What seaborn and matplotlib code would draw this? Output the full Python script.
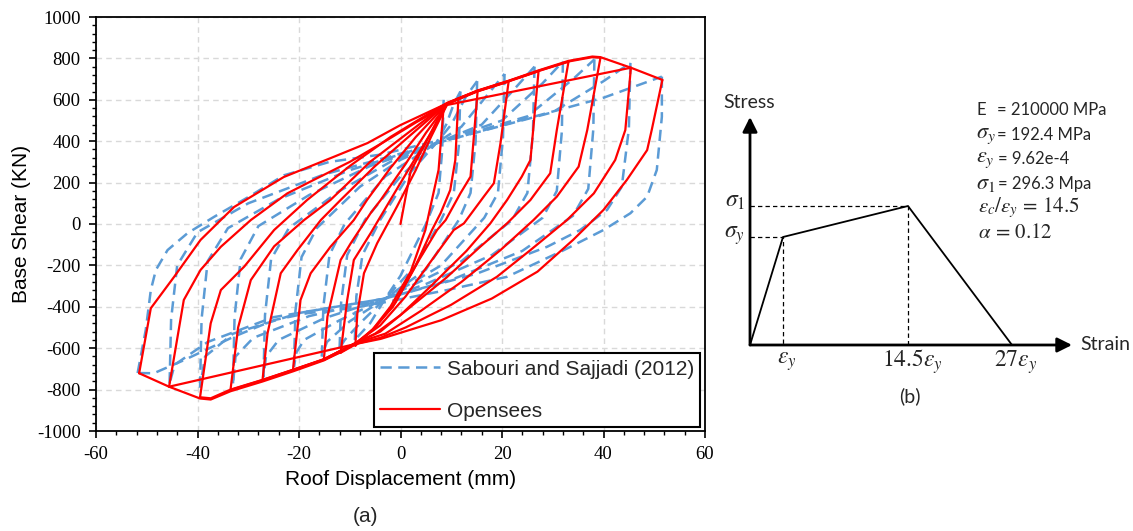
import numpy as np
import pandas as pd
import matplotlib
matplotlib.use("Agg")
import matplotlib.pyplot as plt
import seaborn as sns
from matplotlib.lines import Line2D
from matplotlib.ticker import MultipleLocator

# ---------------- data: OpenSees hysteresis (Roof displacement mm, base shear kN)
os_initial = [(0, 0), (1, 130), (2, 255), (4.6, 375), (6.8, 480), (8.5, 565)]

os_unload = [
    [(8.5, 565), (7.5, 261), (5.9, 84), (4.9, -29), (2, -230), (-2, -400), (-5.5, -510), (-8.9, -588)],
    [(11.4, 605), (10.8, 309), (9.8, 164), (7.9, 52), (6.2, -29), (3, -200), (-1.5, -400), (-5.5, -510), (-8.9, -582), (-11.8, -622)],
    [(15.2, 643), (13.8, 229), (11.8, 148), (8.9, 19), (7.2, -29), (3.5, -180), (-1, -380), (-5, -500), (-8.9, -578), (-11.8, -620), (-15.1, -657)],
    [(21.3, 688), (19.7, 390), (18.4, 197), (16.4, 132), (12.5, 3), (10.5, -29), (6, -180), (1, -350), (-4, -490), (-8.9, -576), (-15.1, -655), (-21.2, -708)],
    [(27.2, 738), (25.6, 309), (23.9, 229), (21, 116), (17.7, 3), (13, -130), (6, -300), (0, -440), (-5, -530), (-8.9, -576), (-15.1, -655), (-21.2, -706), (-27.2, -756)],
    [(33.1, 784), (30.8, 454), (29.5, 245), (25.6, 116), (21, 3), (15.7, -110), (9, -260), (2, -400), (-4, -520), (-8.9, -576), (-15.1, -654), (-21.2, -705), (-27.2, -754), (-33.5, -802)],
    [(39.4, 803), (36.8, 454), (35.1, 277), (30.8, 132), (26.2, 19), (19.7, -126), (12, -280), (4, -420), (-3, -530), (-8.9, -576), (-15.1, -653), (-21.2, -704), (-27.2, -753), (-33.5, -800), (-37.4, -842), (-39.5, -837)],
    [(45.4, 755), (44.3, 454), (42.3, 309), (38.1, 148), (32.8, 19), (25.6, -126), (19, -255), (10, -390), (1, -500), (-4, -550), (-8.9, -580), (-15.1, -659), (-21.2, -712), (-27.2, -761), (-33.5, -808), (-37.4, -848), (-39.5, -843), (-45.6, -786)],
    [(51.6, 696), (49.5, 454), (48.6, 357), (44.6, 213), (40, 68), (34, -77), (27, -230), (18, -360), (8, -465), (-3.9, -555), (-8.9, -580), (-45.6, -786), (-51.5, -721)],
]

os_reload = [
    [(-8.9, -588), (-8.5, -431), (-7.2, -238), (-4.6, -93), (-0.7, 84), (3, 260), (6, 420), (9.2, 578), (11.4, 605)],
    [(-11.8, -622), (-10.5, -367), (-9.2, -174), (-5.9, -45), (-2, 116), (2, 280), (6, 440), (9.2, 580), (12, 612), (15.2, 643)],
    [(-15.1, -657), (-14.4, -448), (-11.8, -174), (-9.8, -93), (-5.9, 52), (-3.9, 116), (1, 290), (5, 440), (9.2, 580), (15.1, 640), (21.3, 688)],
    [(-21.2, -708), (-19.7, -367), (-17.7, -238), (-13.8, -110), (-9.2, 19), (-6.6, 116), (-2, 270), (3, 420), (9.2, 582), (15.1, 641), (21.3, 689), (27.2, 738)],
    [(-27.2, -756), (-26.2, -528), (-23.6, -238), (-20.3, -126), (-15.7, 19), (-11.8, 116), (-5, 280), (2, 430), (9.2, 583), (15.1, 642), (21.3, 690), (27.2, 739), (33.1, 784)],
    [(-33.5, -802), (-32, -500), (-29.5, -271), (-24.9, -108), (-19, 19), (-13.8, 116), (-6, 300), (2, 450), (9.2, 584), (15.1, 643), (21.3, 691), (27.2, 740), (33.1, 785), (37.8, 806), (39.4, 803)],
    [(-39.5, -837), (-37.4, -480), (-35.4, -319), (-30.8, -206), (-24.9, -29), (-18.4, 116), (-10, 280), (-2, 420), (4, 510), (9.2, 585), (15.1, 644), (21.3, 692), (27.2, 742), (33.1, 788), (37.8, 809), (39.4, 806), (45.4, 755)],
    [(-45.6, -786), (-42.7, -367), (-39.4, -222), (-35.4, -110), (-29.5, 19), (-22.3, 148), (-17.1, 213), (-10, 300), (-3, 400), (3, 490), (9.2, 575), (45.4, 755), (51.6, 696)],
    [(-51.5, -721), (-49.2, -407), (-44.6, -255), (-39.4, -77), (-32.8, 82), (-23, 227), (-13.2, 324), (-6.5, 391), (0, 478), (9.2, 583)],
]

# ---------------- data: Sabouri and Sajjadi (2012) test
exp_unload = [
    [(8.5, 600), (8.2, 350), (7.5, 150), (5, 0), (0, -250), (-3, -360), (-6, -480), (-9, -560)],
    [(11.8, 640), (11.5, 380), (10.5, 150), (8, 20), (3, -200), (-3, -360), (-8, -480), (-11, -560), (-12, -600)],
    [(15.1, 690), (14.8, 400), (13.8, 150), (11.5, 20), (5, -220), (-3, -360), (-10, -470), (-14.5, -570), (-15.5, -640)],
    [(20.5, 725), (20.2, 420), (19.2, 150), (16.5, 30), (8, -200), (-3, -360), (-12, -465), (-19, -560), (-20.5, -620), (-21, -690)],
    [(26.4, 760), (26.1, 440), (25, 150), (22, 20), (12, -180), (-3, -360), (-15, -455), (-24, -560), (-26.5, -640), (-27, -740)],
    [(32, 785), (31.8, 450), (30.8, 160), (28, 30), (18, -150), (5, -290), (-3, -360), (-18, -445), (-29, -550), (-32.5, -640), (-33, -770)],
    [(38.2, 795), (38, 460), (37, 170), (34, 40), (24, -130), (10, -270), (-3, -360), (-20, -430), (-33, -530), (-38.5, -640), (-39.5, -790)],
    [(45.3, 778), (45, 460), (43.6, 180), (40.7, 68), (35.4, -29), (28.9, -110), (15, -240), (-3, -360), (-25, -450), (-38, -570), (-44.5, -680), (-45.5, -770)],
    [(51.5, 712), (51.5, 518), (50.5, 261), (48.6, 132), (45.3, 52), (40, -29), (32.2, -126), (21, -255), (9.2, -319), (-3.9, -382), (-9.8, -407), (-18.4, -431), (-24.9, -464), (-32.8, -544), (-42.6, -657), (-48.6, -721), (-51.8, -720)],
]

exp_reload = [
    [(-9, -560), (-8.7, -350), (-7.5, -150), (-4, 20), (2, 250), (7, 390), (9, 480), (10.5, 580), (11.8, 640)],
    [(-12, -600), (-11.7, -380), (-10.5, -150), (-7, 20), (0, 230), (7, 390), (10, 480), (13, 620), (15.1, 690)],
    [(-15.5, -640), (-15.2, -400), (-14, -150), (-11, 0), (-3, 230), (7, 390), (12, 470), (17, 620), (20.5, 725)],
    [(-21, -690), (-20.7, -420), (-19.5, -160), (-16.5, -20), (-8, 180), (0, 310), (7, 390), (16, 480), (22, 640), (26.4, 760)],
    [(-27, -740), (-26.7, -440), (-25.5, -170), (-22, -20), (-12, 160), (-2, 300), (7, 390), (20, 500), (28, 680), (32, 785)],
    [(-33, -770), (-32.7, -450), (-31.5, -170), (-28, -10), (-18, 140), (-6, 280), (7, 390), (25, 520), (34, 700), (38.2, 795)],
    [(-39.5, -790), (-39.2, -460), (-38, -180), (-34, -20), (-24, 120), (-10, 260), (7, 390), (30, 540), (40, 690), (45.3, 778)],
    [(-45.5, -770), (-45.2, -460), (-44, -200), (-40, -40), (-30, 100), (-15, 240), (0, 340), (7, 390), (40, 610), (51.5, 712)],
    [(-51.8, -720), (-50.2, -512), (-49.2, -319), (-48.2, -222), (-45.9, -126), (-42, -45), (-36.7, 35), (-30, 130), (-23, 235), (-14, 300), (-4, 335), (7, 400)],
]

series_names = ["Sabouri and Sajjadi (2012)", "Opensees"]
x_ticks = [-60, -40, -20, 0, 20, 40, 60]
y_ticks = [-1000, -800, -600, -400, -200, 0, 200, 400, 600, 800, 1000]

# ---------------- data: material model schematic (diagram units)
model_strain = [0, 33, 158, 262]
model_stress = [0, 108, 139, 0]
strain_labels = [r"$\varepsilon_y$", r"$14.5\varepsilon_y$", r"$27\varepsilon_y$"]
stress_labels = [r"$\sigma_1$", r"$\sigma_y$"]
param_symbols = ["E", r"$\sigma_y$", r"$\varepsilon_y$", r"$\sigma_1$"]
param_values = ["= 210000 MPa", "= 192.4 MPa", "= 9.62e-4", "= 296.3 Mpa"]
param_math = [r"$\varepsilon_c/\varepsilon_y\,=\,14.5$", r"$\alpha\,=\,0.12$"]

# ---------------- build tidy frame
rows = []
def add(series, prefix, branches):
    for b, pts in enumerate(branches):
        for i, (x, y) in enumerate(pts):
            rows.append(dict(series=series, branch=f"{prefix}{b}", order=i, disp=x, shear=y))

add(series_names[0], "eu", exp_unload)
add(series_names[0], "er", exp_reload)
add(series_names[1], "oi", [os_initial])
add(series_names[1], "ou", os_unload)
add(series_names[1], "or", os_reload)
df = pd.DataFrame(rows)

sns.set_theme(style="white")
plt.rcParams["font.family"] = ["Liberation Sans", "DejaVu Sans"]
plt.rcParams["mathtext.fontset"] = "stix"
plt.rcParams["axes.unicode_minus"] = False

BLUE = "#5B9BD5"
RED = "#FF0000"

fig = plt.figure(figsize=(11.33, 5.31), dpi=100)
ax = fig.add_axes([96 / 1133, 1 - 431 / 531, 609 / 1133, 414 / 531])

d_exp = df[df.series == series_names[0]]
d_os = df[df.series == series_names[1]]
n0 = len(ax.lines)
sns.lineplot(data=d_exp, x="disp", y="shear", units="branch", estimator=None, sort=False,
             color=BLUE, lw=1.8, ax=ax, legend=False)
for ln in ax.lines[n0:]:
    ln.set_linestyle((0, (4.5, 2.6)))
n1 = len(ax.lines)
sns.lineplot(data=d_os, x="disp", y="shear", units="branch", estimator=None, sort=False,
             color=RED, lw=1.6, ax=ax, legend=False)
for ln in ax.lines[n1:]:
    ln.set_linestyle("-")

ax.set_xlim(-60, 60)
ax.set_ylim(-1000, 1000)
ax.set_xticks(x_ticks)
ax.set_yticks(y_ticks)
ax.set_xticklabels([str(v) for v in x_ticks])
ax.set_yticklabels([str(v) for v in y_ticks])
ax.xaxis.set_minor_locator(MultipleLocator(4))
ax.yaxis.set_minor_locator(MultipleLocator(40))
ax.grid(True, which="major", color="#d9d9d9", lw=1.0, linestyle=(0, (4, 3)))
ax.set_axisbelow(True)
for s in ax.spines.values():
    s.set_color("black")
    s.set_linewidth(1.3)
ax.tick_params(axis="both", which="major", direction="out", length=5, width=1.2, color="black",
               bottom=True, left=True, pad=6)
ax.tick_params(axis="both", which="minor", direction="out", length=3, width=1.0, color="black",
               bottom=True, left=True)
for lab in ax.get_xticklabels() + ax.get_yticklabels():
    lab.set_fontfamily("Liberation Serif")
    lab.set_fontsize(13.5)
    lab.set_color("black")

ax.set_xlabel("Roof Displacement (mm)", fontsize=15, color="black")
ax.set_ylabel("Base Shear (KN)", fontsize=15, color="black")
ax.xaxis.set_label_coords(0.5, -0.095)
ax.yaxis.set_label_coords(-0.107, 0.5)

handles = [Line2D([], [], color=BLUE, lw=1.8, linestyle=(0, (4.5, 2.6))),
           Line2D([], [], color=RED, lw=1.6)]
leg = ax.legend(handles, series_names, loc="lower right", bbox_to_anchor=(0.992, 0.01),
                fontsize=15, frameon=True, fancybox=False, framealpha=1, edgecolor="black",
                handlelength=2.9, handletextpad=0.3, labelspacing=1.1, borderpad=0.3,
                borderaxespad=0)
leg.get_frame().set_linewidth(1.5)

fig.text(366 / 1133, 1 - 517 / 531, "(a)", ha="center", va="center", fontsize=15)

# ---------------- panel (b)
ax2 = fig.add_axes([750 / 1133, 1 - 345 / 531, 380 / 1133, 245 / 531])
ax2.set_xlim(0, 380)
ax2.set_ylim(0, 245)
ax2.axis("off")
sfont = ["Lato", "DejaVu Sans"]

sns.lineplot(x=model_strain, y=model_stress, sort=False, estimator=None, color="black", lw=1.3, ax=ax2)
ax2.plot([0, model_strain[2], model_strain[2]], [model_stress[2], model_stress[2], 0],
         color="black", lw=0.9, linestyle=(0, (3.5, 2.5)))
ax2.plot([0, model_strain[1], model_strain[1]], [model_stress[1], model_stress[1], 0],
         color="black", lw=0.9, linestyle=(0, (3.5, 2.5)))
ax2.annotate("", xy=(322, 0), xytext=(0, 0), annotation_clip=False,
             arrowprops=dict(arrowstyle="-|>", lw=2, color="black", mutation_scale=22, shrinkA=0, shrinkB=0))
ax2.annotate("", xy=(0, 228), xytext=(0, 0), annotation_clip=False,
             arrowprops=dict(arrowstyle="-|>", lw=2, color="black", mutation_scale=22, shrinkA=0, shrinkB=0))

ax2.text(-27, 242, "Stress", fontsize=14, family=sfont, ha="left", va="center")
ax2.text(330, 0, "Strain", fontsize=14, family=sfont, ha="left", va="center")
ax2.text(-5, model_stress[2] + 5, stress_labels[0], fontsize=17, ha="right", va="center")
ax2.text(-5, model_stress[1] + 1, stress_labels[1], fontsize=17, ha="right", va="center")
for xs, lab in zip(model_strain[1:], strain_labels):
    ax2.text(xs + 4, -17, lab, fontsize=17, ha="center", va="center")
ax2.text(160, -51, "(b)", fontsize=14, family=sfont, ha="center", va="center")

sym_y = [235, 210, 186, 161]
val_x = [247, 247, 248, 248]
for yy, vx, sym, val in zip(sym_y, val_x, param_symbols, param_values):
    if sym.startswith("$"):
        ax2.text(226, yy, sym, fontsize=16, ha="left", va="center")
    else:
        ax2.text(227, yy, sym, fontsize=12, family=sfont, ha="left", va="center")
    ax2.text(vx, yy, val, fontsize=12, family=sfont, ha="left", va="center")
for yy, txt in zip([137, 113], param_math):
    ax2.text(228, yy, txt, fontsize=15, ha="left", va="center")

fig.savefig("out.png", dpi=100)
